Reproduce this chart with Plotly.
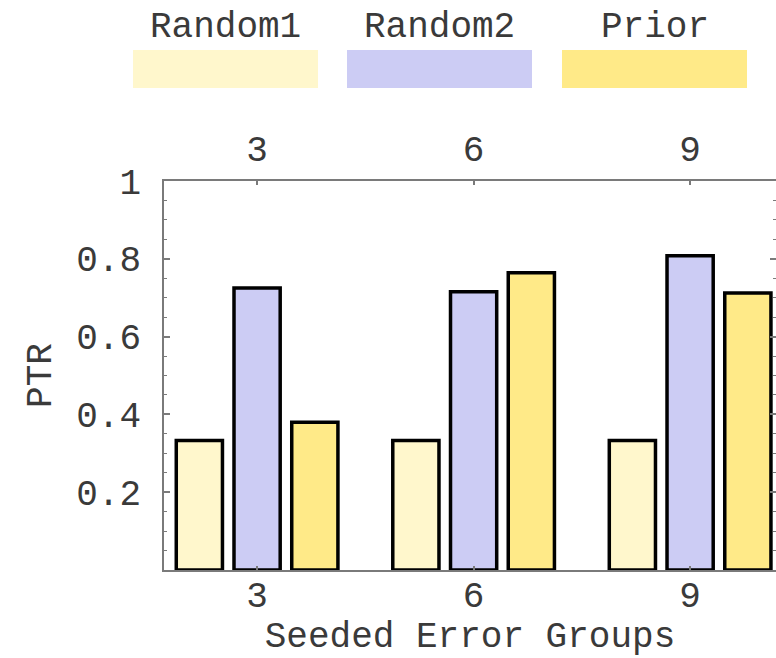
import plotly.graph_objects as go

groups = [3, 6, 9]
series_names = ["Random1", "Random2", "Prior"]
random1 = [0.333, 0.333, 0.333]
random2 = [0.725, 0.715, 0.808]
prior = [0.380, 0.764, 0.712]
y_ticks = [0.2, 0.4, 0.6, 0.8, 1]
y_tick_text = ["0.2", "0.4", "0.6", "0.8", "1"]

colors = ["#FFF7CC", "#CCCCF4", "#FFEA88"]
values = [random1, random2, prior]

W, H = 776, 658
L, R, T, B = 164, 0, 181, 88
FONT = "Liberation Mono, Courier New, monospace"
TXT = "#3a3a3a"
AX = "#7a7a7a"

fig = go.Figure()
for name, vals, col in zip(series_names, values, colors):
    fig.add_trace(go.Bar(
        x=groups, y=vals, name=name,
        marker=dict(color=col, line=dict(color="black", width=3.5)),
        showlegend=False,
    ))
# invisible trace for the top / right axes
fig.add_trace(go.Scatter(x=groups, y=[None] * len(groups), xaxis="x2", yaxis="y2",
                         mode="markers", showlegend=False, hoverinfo="skip"))

xr = [1.71, 10.19]
fig.update_layout(
    width=W, height=H,
    margin=dict(l=L, r=R, t=T, b=B),
    paper_bgcolor="white", plot_bgcolor="white",
    barmode="group", bargap=0.2, bargroupgap=0.2,
    font=dict(family=FONT, size=36, color=TXT),
    xaxis=dict(
        range=xr, tickvals=groups, ticktext=[str(g) for g in groups],
        ticks="inside", ticklen=4, tickcolor=AX, tickwidth=1.5,
        showline=True, linecolor=AX, linewidth=1.5, showgrid=False, zeroline=False,
        tickfont=dict(size=36), ticklabelstandoff=-8,
        title=dict(text="Seeded Error Groups", font=dict(size=36), standoff=14),
    ),
    xaxis2=dict(
        range=xr, overlaying="x", side="top", matches="x", anchor="y2",
        tickvals=groups, ticktext=[str(g) for g in groups],
        ticks="inside", ticklen=4, tickcolor=AX, tickwidth=1.5,
        showline=True, linecolor=AX, linewidth=1.5, showgrid=False, zeroline=False,
        tickfont=dict(size=36), ticklabelstandoff=4,
    ),
    yaxis=dict(
        range=[0, 1], tickvals=y_ticks, ticktext=y_tick_text,
        ticks="inside", ticklen=6, tickcolor=AX, tickwidth=1.5,
        minor=dict(dtick=0.05, ticks="inside", ticklen=3, tickcolor=AX, tickwidth=1),
        showline=True, linecolor=AX, linewidth=1.5,
        showgrid=False, zeroline=False,
        tickfont=dict(size=36), ticklabelstandoff=14,
        title=dict(text="PTR", font=dict(size=36), standoff=14),
    ),
    yaxis2=dict(
        range=[0, 1], overlaying="y", side="right", matches="y", anchor="x2",
        tickvals=y_ticks, showticklabels=False,
        ticks="inside", ticklen=6, tickcolor=AX, tickwidth=1.5,
        minor=dict(dtick=0.05, ticks="inside", ticklen=3, tickcolor=AX, tickwidth=1),
        showline=False, showgrid=False, zeroline=False,
    ),
)

# custom legend: swatches with labels above
pw = W - L - R
ph = H - T - B
def px_x(p):
    return (p - L) / pw
def px_y(p):
    return (H - B - p) / ph

sw_left = [133, 347, 562]
sw_w = 185
for name, col, x0 in zip(series_names, colors, sw_left):
    fig.add_shape(type="rect", xref="paper", yref="paper",
                  x0=px_x(x0), x1=px_x(x0 + sw_w), y0=px_y(88), y1=px_y(50),
                  fillcolor=col, line=dict(width=0), layer="above")
    fig.add_annotation(xref="paper", yref="paper", x=px_x(x0 + sw_w / 2), y=px_y(27),
                       text=name, showarrow=False, xanchor="center", yanchor="middle",
                       font=dict(family=FONT, size=36, color=TXT))

fig.write_html("out.html", config={"displayModeBar": False},
               post_script="document.body.style.margin='0px';")
